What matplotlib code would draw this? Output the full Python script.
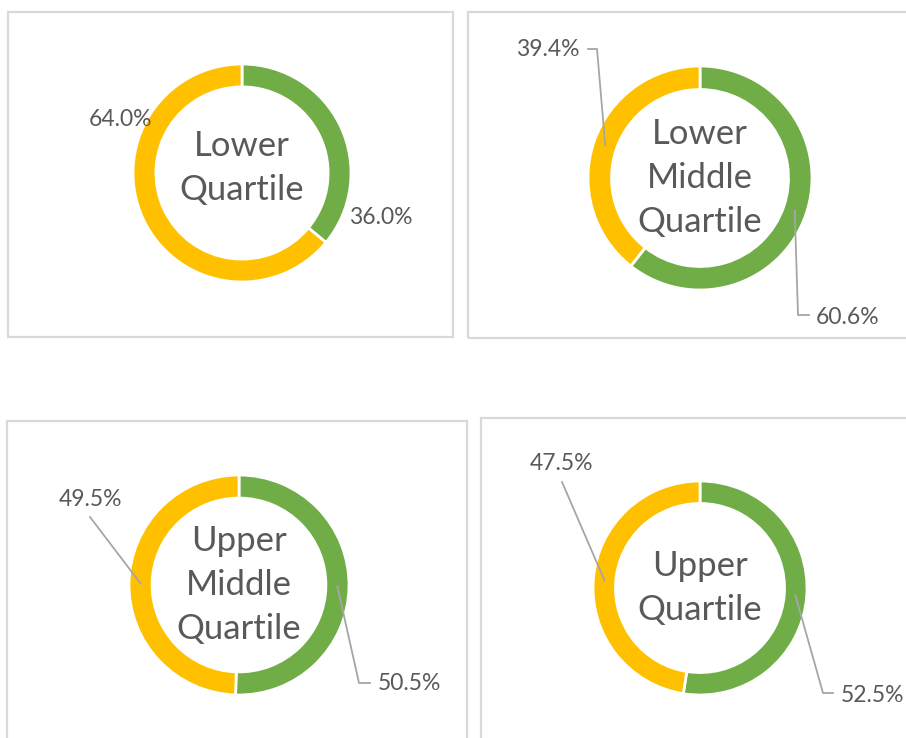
import numpy as np
import matplotlib.pyplot as plt
from matplotlib.patches import Rectangle

plt.rcParams['font.family'] = ['Lato', 'DejaVu Sans']

# data
titles = ['Lower\nQuartile', 'Lower\nMiddle\nQuartile', 'Upper\nMiddle\nQuartile', 'Upper\nQuartile']
green_pct = [36.0, 60.6, 50.5, 52.5]
yellow_pct = [64.0, 39.4, 49.5, 47.5]

GREEN = '#70AD47'
YELLOW = '#FFC000'
TEXT = '#595959'
LEADER = '#A6A6A6'
BORDER = '#D9D9D9'

W, H = 906, 738
fig = plt.figure(figsize=(W / 100, H / 100), dpi=100)
fig.patch.set_facecolor('white')

# panel layout in pixels: border box, donut centre, radius
borders = [(8, 12, 453, 337), (468, 12, 920, 338), (7, 421, 467, 750), (481, 418, 920, 750)]
centres = [(242, 173), (700, 178), (239, 585), (700, 588)]
radii = [109, 112, 110, 107]
ring = 0.21

# label placement (pixel coords of label centre) and leader elbow (None = no leader)
green_lbl = [(381, 217), (848, 317), (409, 684), (873, 696)]
yellow_lbl = [(121, 119), (548, 50), (90, 499), (561, 463)]
green_elbow = [None, (798, 315), (359, 683), (823, 693)]
yellow_elbow = [None, (597, 49), None, None]
green_start = [None, (809, 315), (370, 683), (833, 693)]
yellow_start = [None, (588, 49), (90, 517), (562, 482)]
title_dy = [-5, 0, 0, 0]

over = fig.add_axes([0, 0, 1, 1], zorder=5)
over.set_xlim(0, W)
over.set_ylim(H, 0)
over.axis('off')
over.patch.set_alpha(0)

for i in range(4):
    x0, y0, x1, y1 = borders[i]
    fig.patches.append(Rectangle((x0 / W, 1 - y1 / H), (x1 - x0) / W, (y1 - y0) / H,
                                 transform=fig.transFigure, fill=False,
                                 edgecolor=BORDER, linewidth=1.6, zorder=0))

    cx, cy = centres[i]
    R = radii[i]
    ax = fig.add_axes([(cx - R) / W, 1 - (cy + R) / H, 2 * R / W, 2 * R / H])
    ax.pie([green_pct[i], yellow_pct[i]], colors=[GREEN, YELLOW], startangle=90,
           counterclock=False, radius=1,
           wedgeprops=dict(width=ring, edgecolor='white', linewidth=2))
    ax.set_xlim(-1.0, 1.0)
    ax.set_ylim(-1.0, 1.0)
    ax.set_aspect('equal')
    ax.axis('off')
    over.text(cx, cy + title_dy[i], titles[i], ha='center', va='center', fontsize=25,
              color=TEXT, linespacing=1.48, zorder=6)

    # leader lines end at ring middle, at the wedge mid angle
    rmid = R * (1 - ring / 2)
    fracs = [green_pct[i] / 100, yellow_pct[i] / 100]
    mids = [fracs[0] / 2, fracs[0] + fracs[1] / 2]
    for k, (lbl, elbow, start) in enumerate([(green_lbl[i], green_elbow[i], green_start[i]),
                                             (yellow_lbl[i], yellow_elbow[i], yellow_start[i])]):
        val = [green_pct[i], yellow_pct[i]][k]
        over.text(lbl[0], lbl[1], f'{val:.1f}%', ha='center', va='center',
                  fontsize=16.5, color=TEXT)
        if start is None:
            continue
        ang = np.pi / 2 - 2 * np.pi * mids[k]
        ex, ey = cx + rmid * np.cos(ang), cy - rmid * np.sin(ang)
        pts = [start] + ([elbow] if elbow is not None else []) + [(ex, ey)]
        over.plot([p[0] for p in pts], [p[1] for p in pts], color=LEADER, lw=1.3)

fig.savefig('out.png', dpi=100)
